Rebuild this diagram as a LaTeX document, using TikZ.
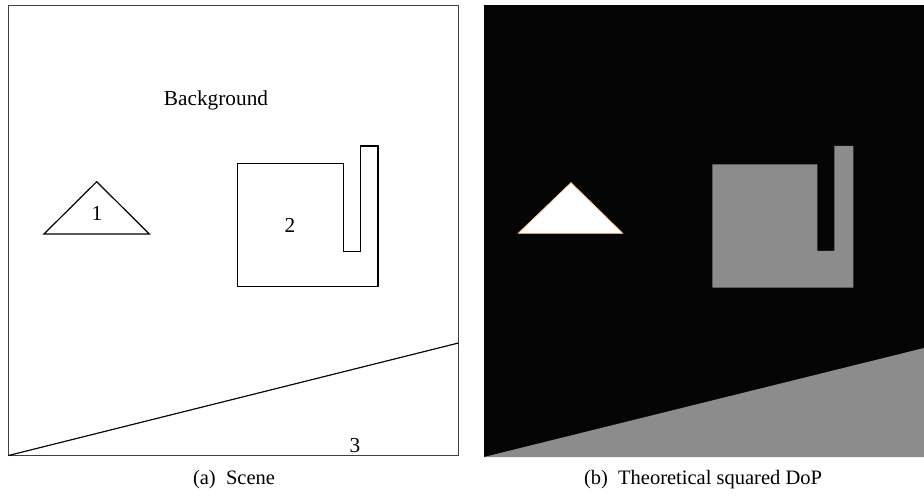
\documentclass[tikz,border=0pt]{standalone}
\usepackage{fontspec}
\setmainfont{Liberation Serif}
\begin{document}
\begin{tikzpicture}[x=1pt,y=-1pt,
  outline/.style={draw=black,line width=1.2pt},
  frame/.style={draw=black!75,line width=1.5pt},
  lbl/.style={font=\fontsize{21.3}{24}\selectfont,inner sep=0pt},
  captext/.style={font=\fontsize{20.5}{24}\selectfont,inner sep=0pt}]
\useasboundingbox (0,0) rectangle (924,497);
% left panel
\draw[frame] (8.5,5.5) rectangle (458.5,455.5);
\draw[outline] (8.5,455.5) -- (458.5,343);
\draw[outline] (96.7,181.7) -- (44,234) -- (149.3,234) -- cycle;
\draw[outline] (237.3,163.7) -- (343.3,163.7) -- (343.3,251.3) -- (360.3,251.3) -- (360.3,146) -- (378,146) -- (378,286.7) -- (237.3,286.7) -- cycle;
\node[lbl] (bg) at (216,100) {Background};
\node[lbl] (one) at (97,213) {1};
\node[lbl] (two) at (290,225) {2};
\node[lbl] (three) at (355,446) {3};
% right panel
\fill[black!98] (484,5) rectangle (924,457);
\fill[black!45] (484,457) -- (924,348) -- (924,457) -- cycle;
\fill[black!45] (712.3,164.3) -- (817.3,164.3) -- (817.3,251) -- (834.3,251) -- (834.3,146) -- (853.3,146) -- (853.3,287.7) -- (712.3,287.7) -- cycle;
\filldraw[fill=white,draw=orange!40,line width=0.8pt] (571,182.7) -- (518.3,233.3) -- (622.7,233.3) -- cycle;
% captions
\node[captext] (capa) at (234,480) {(a)\ \ Scene};
\node[captext] (capb) at (703,480) {(b)\ \ Theoretical squared DoP};
\end{tikzpicture}
\end{document}
